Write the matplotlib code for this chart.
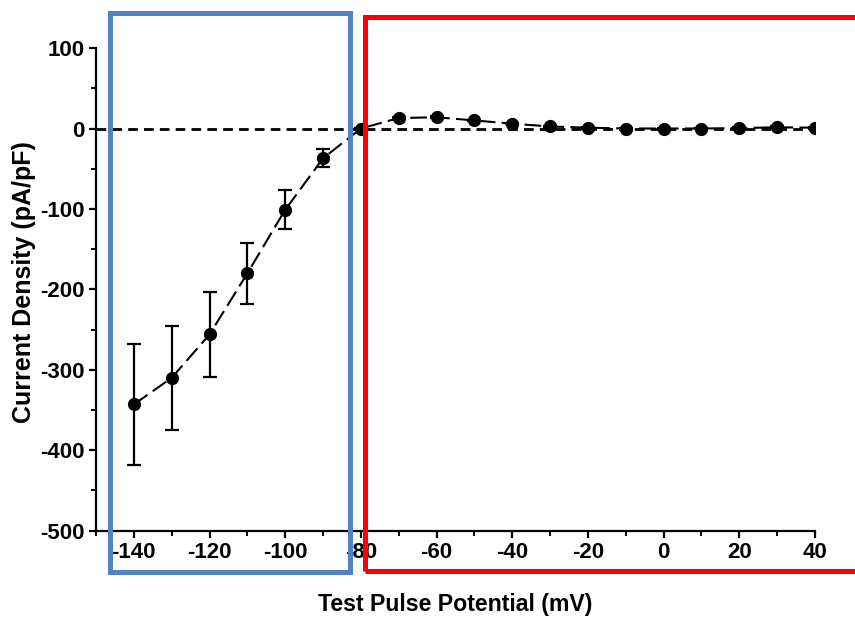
import matplotlib.pyplot as plt
from matplotlib.patches import Rectangle
from matplotlib.ticker import MultipleLocator

plt.rcParams['font.family'] = ['Liberation Sans', 'DejaVu Sans']
plt.rcParams['font.weight'] = 'bold'
plt.rcParams['axes.unicode_minus'] = False

# test pulse potential (mV) and mean current density (pA/pF) with SEM
voltage = [-140, -130, -120, -110, -100, -90, -80, -70, -60, -50,
           -40, -30, -20, -10, 0, 10, 20, 30, 40]
density = [-343, -310, -256, -180, -101, -37, 0, 13, 14, 10,
           6, 2.5, 1, 0, 0, 0, 0.5, 1.5, 1]
sem = [75, 65, 53, 38, 24, 11, 1, 1, 1, 1,
       1, 1, 1, 1, 1, 1, 1, 1, 1]

fig = plt.figure(figsize=(8.55, 6.17), dpi=100)
ax = fig.add_axes([0.1123, 0.1399, 0.8409, 0.7822])

ax.axhline(0, color='black', lw=2, ls=(0, (3.5, 2.2)), zorder=1)
ax.errorbar(voltage, density, yerr=sem, fmt='o', color='black', ms=8.5,
            ecolor='black', elinewidth=1.6, capsize=5, capthick=1.6, zorder=3)
ax.plot(voltage, density, color='black', lw=1.5, ls=(0, (8, 3)), zorder=2)

ax.set_xlim(-150, 40)
ax.set_ylim(-500, 100)
ax.xaxis.set_major_locator(MultipleLocator(20))
ax.xaxis.set_minor_locator(MultipleLocator(10))
ax.yaxis.set_major_locator(MultipleLocator(100))
ax.yaxis.set_minor_locator(MultipleLocator(50))
ax.set_xticks(range(-140, 41, 20))

for s in ['top', 'right']:
    ax.spines[s].set_visible(False)
for s in ['left', 'bottom']:
    ax.spines[s].set_linewidth(1.6)

ax.tick_params(which='major', direction='out', length=5, width=1.6,
               labelsize=16, pad=3)
ax.tick_params(which='minor', direction='out', length=3.5, width=1.4)
for lab in ax.get_xticklabels() + ax.get_yticklabels():
    lab.set_fontweight('bold')

ax.set_xlabel('Test Pulse Potential (mV)', fontsize=16.7, fontweight='bold',
              labelpad=22)
ax.set_ylabel('Current Density (pA/pF)', fontsize=18, fontweight='bold',
              labelpad=3)
ax.yaxis.label.set_y(0.515)

# highlight boxes in figure coordinates
W, H = 855, 617
blue = Rectangle((109.5 / W, 1 - 572 / H), (349.5 - 109.5) / W, (572 - 12.5) / H,
                 transform=fig.transFigure, fill=False, edgecolor='#5282C0',
                 lw=3.6, clip_on=False, zorder=5)
red = Rectangle((364.5 / W, 1 - 571 / H), (900 - 364.5) / W, (571 - 16.5) / H,
                transform=fig.transFigure, fill=False, edgecolor='#FF0000',
                lw=3.6, clip_on=False, zorder=5)
fig.patches.extend([blue, red])

fig.savefig('out.png', dpi=100)
